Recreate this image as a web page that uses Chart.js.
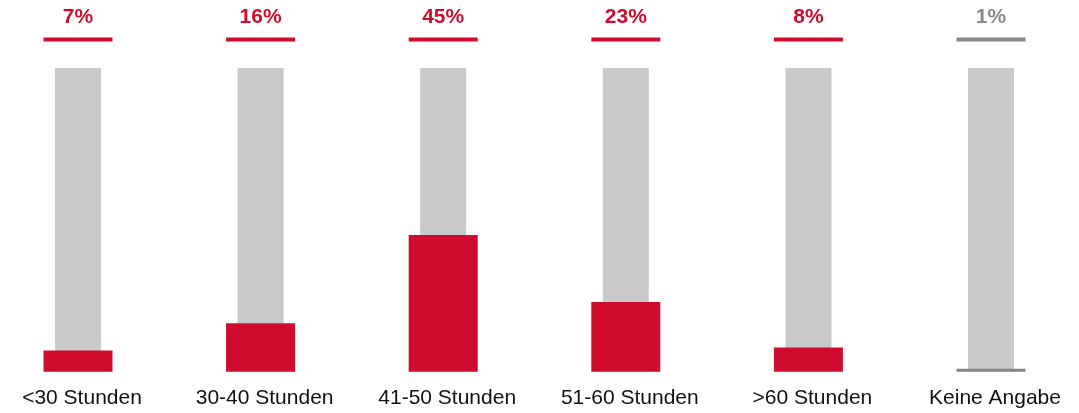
<!DOCTYPE html>
<html>
<head>
<meta charset="utf-8">
<script src="https://cdn.jsdelivr.net/npm/chart.js@4"></script>
<style>
    html, body { margin: 0; padding: 0; background: #ffffff; overflow: hidden; }
    #wrap { width: 1079px; height: 428px; position: relative; }
</style>
</head>
<body>
<div id="wrap"><canvas id="hoursChart"></canvas></div>
<script>
const categories = ['<30 Stunden', '30-40 Stunden', '41-50 Stunden', '51-60 Stunden', '>60 Stunden', 'Keine Angabe'];
const shares = [7, 16, 45, 23, 8, 1];
const scaleMax = 100;

const RED = '#D00C2E';
const TRACK_GRAY = '#C9C9C9';
const DARK_GRAY = '#868686';

function barColor(i) {
    if (categories[i] === 'Keine Angabe') {
        return DARK_GRAY;
    }
    return RED;
}

const valueColors = [];
const trackValues = [];
for (let i = 0; i < categories.length; i++) {
    valueColors.push(barColor(i));
    trackValues.push(scaleMax);
}

// percent label + short line above each column
const topLabels = {
    id: 'topLabels',
    afterDatasetsDraw: function(chart) {
        const ctx = chart.ctx;
        const meta = chart.getDatasetMeta(0);
        ctx.save();
        for (let i = 0; i < meta.data.length; i++) {
            const bar = meta.data[i];
            const half = bar.width / 2;
            ctx.strokeStyle = valueColors[i];
            ctx.lineWidth = 4;
            ctx.beginPath();
            ctx.moveTo(bar.x - half, 39.5);
            ctx.lineTo(bar.x + half, 39.5);
            ctx.stroke();

            ctx.fillStyle = i === categories.length - 1 ? '#8A8A8A' : RED;
            ctx.font = 'bold 21px "Liberation Sans", Arial, sans-serif';
            ctx.textAlign = 'center';
            ctx.textBaseline = 'middle';
            ctx.fillText(shares[i] + '%', bar.x, 17);
        }
        ctx.restore();
    }
};

const chart = new Chart(document.getElementById('hoursChart'), {
    type: 'bar',
    data: {
        labels: categories,
        datasets: [
            {
                data: shares,
                backgroundColor: valueColors,
                barPercentage: 0.378,
                categoryPercentage: 1,
                grouped: false,
                order: 0,
                clip: false
            },
            {
                data: trackValues,
                backgroundColor: TRACK_GRAY,
                barPercentage: 0.252,
                categoryPercentage: 1,
                grouped: false,
                order: 1,
                clip: false
            }
        ]
    },
    options: {
        responsive: true,
        maintainAspectRatio: false,
        animation: false,
        layout: {
            padding: { left: 78, right: 88, top: 68, bottom: 3 }
        },
        plugins: {
            legend: { display: false },
            tooltip: { enabled: false }
        },
        scales: {
            x: {
                offset: false,
                grid: { display: false, drawTicks: false },
                border: { display: false },
                ticks: {
                    color: '#111111',
                    padding: 14,
                    labelOffset: 4,
                    maxRotation: 0,
                    autoSkip: false,
                    font: { family: '"Liberation Sans", Arial, sans-serif', size: 21 }
                }
            },
            y: {
                display: false,
                min: 0,
                max: scaleMax
            }
        }
    },
    plugins: [topLabels]
});
</script>
</body>
</html>
